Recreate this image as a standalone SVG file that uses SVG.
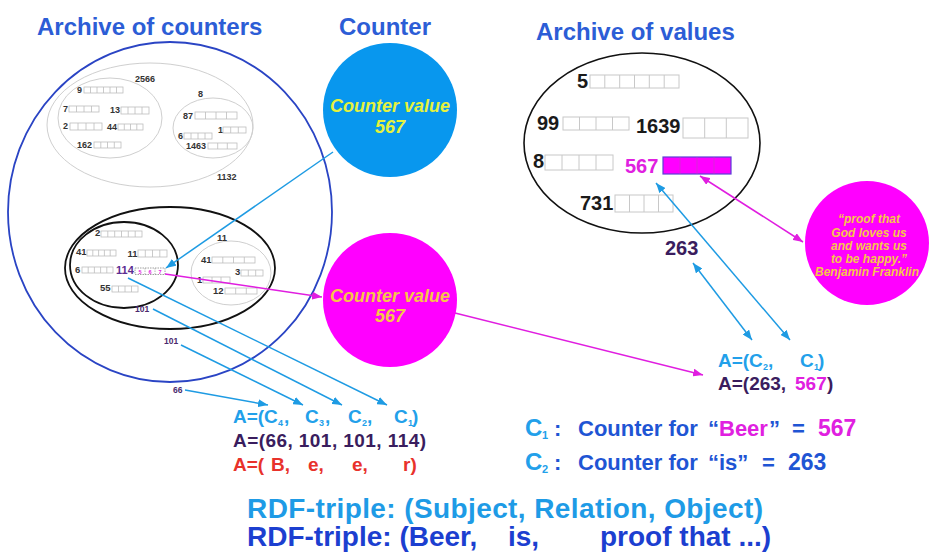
<svg xmlns="http://www.w3.org/2000/svg" width="934" height="554" viewBox="0 0 934 554">
<style>
text{font-family:"Liberation Sans",Arial,sans-serif;font-weight:bold}
.ttl{font-size:24px;fill:#2c5dd6}
.n{font-size:9px;fill:#333}
.n2{font-size:9.5px;fill:#333}
.cell{fill:none;stroke:#bdbdbd;stroke-width:0.8}
.vc{fill:none;stroke:#c8c8c8;stroke-width:1}
.vn{font-size:20px;fill:#1a1a1a}
.gray{fill:none;stroke:#cfcfcf;stroke-width:1}
.blk{fill:none;stroke:#111;stroke-width:1.8}
.bl{stroke:#1e9be3;stroke-width:1.5;fill:none}
.mg{stroke:#e01ee0;stroke-width:1.5;fill:none}
.cv{font-size:18px;font-style:italic;text-anchor:middle}
.lb{fill:#22a0ea}
.dp{fill:#3a1d5e}
.rd{fill:#e8322b}
.mag{fill:#e020e0}
.db{fill:#1f55d4}
.lbl{font-size:8.5px;fill:#4a2a6e}
</style>
<defs>
<marker id="ab" viewBox="0 0 10 8" refX="10" refY="4" markerWidth="10" markerHeight="8" markerUnits="userSpaceOnUse" orient="auto-start-reverse"><path d="M0,0L10,4L0,8z" fill="#1e9be3"/></marker>
<marker id="am" viewBox="0 0 10 8" refX="10" refY="4" markerWidth="10" markerHeight="8" markerUnits="userSpaceOnUse" orient="auto-start-reverse"><path d="M0,0L10,4L0,8z" fill="#e01ee0"/></marker>
</defs>
<rect width="934" height="554" fill="#fff"/>

<g id="titles">
<text class="ttl" x="37" y="35">Archive of counters</text>
<text class="ttl" x="339" y="35">Counter</text>
<text class="ttl" x="536" y="40">Archive of values</text>
</g>

<g id="archive-counters">
<ellipse cx="170" cy="212" rx="162" ry="170" fill="none" stroke="#2a44c4" stroke-width="1.8"/>
<g id="upper-group">
<ellipse class="gray" cx="150" cy="125" rx="103" ry="62"/>
<ellipse class="gray" cx="110" cy="118" rx="52" ry="40"/>
<ellipse class="gray" cx="213" cy="128" rx="40" ry="30"/>
<text class="n" x="135" y="82">2566</text>
<text class="n" x="77" y="93">9</text>
<rect class="cell" x="84" y="87" width="39" height="6"/><path class="cell" d="M90.5,87v6M97,87v6M103.5,87v6M110,87v6M116.5,87v6"/>
<text class="n" x="63" y="112">7</text>
<rect class="cell" x="69" y="106" width="30" height="6"/><path class="cell" d="M76.5,106v6M84,106v6M91.5,106v6"/>
<text class="n" x="110" y="113">13</text>
<rect class="cell" x="121" y="107" width="28" height="7"/><path class="cell" d="M128,107v7M135,107v7M142,107v7"/>
<text class="n" x="63" y="129">2</text>
<rect class="cell" x="70" y="123" width="32" height="7"/><path class="cell" d="M78,123v7M86,123v7M94,123v7"/>
<text class="n" x="107" y="130">44</text>
<rect class="cell" x="118" y="124" width="25" height="6"/><path class="cell" d="M124.3,124v6M130.5,124v6M136.8,124v6"/>
<text class="n" x="77" y="148">162</text>
<rect class="cell" x="94" y="142" width="27" height="6"/><path class="cell" d="M100.8,142v6M107.5,142v6M114.3,142v6"/>
<text class="n" x="198" y="97">8</text>
<text class="n" x="183" y="119">87</text>
<rect class="cell" x="195" y="112" width="42" height="7"/><path class="cell" d="M205.5,112v7M216,112v7M226.5,112v7"/>
<text class="n" x="218" y="133">1</text>
<rect class="cell" x="223" y="127" width="23" height="6"/><path class="cell" d="M230.7,127v6M238.3,127v6"/>
<text class="n" x="178" y="139">6</text>
<rect class="cell" x="184" y="133" width="28" height="6"/><path class="cell" d="M191,133v6M198,133v6M205,133v6"/>
<text class="n" x="186" y="149">1463</text>
<rect class="cell" x="208" y="143" width="29" height="6"/><path class="cell" d="M217.7,143v6M227.3,143v6"/>
<text class="n" x="217" y="180">1132</text>
</g>
<g id="lower-group">
<ellipse class="blk" cx="170" cy="268" rx="105" ry="61"/>
<ellipse class="blk" cx="124" cy="265" rx="54" ry="43"/>
<ellipse class="gray" cx="231" cy="273" rx="40" ry="32"/>
<text class="n2" x="95" y="236">2</text>
<rect class="cell" x="101" y="231" width="41" height="6"/><path class="cell" d="M107.8,231v6M114.7,231v6M121.5,231v6M128.3,231v6M135.2,231v6"/>
<text class="n2" x="76" y="255">41</text>
<rect class="cell" x="87" y="250" width="29" height="6"/><path class="cell" d="M92.8,250v6M98.6,250v6M104.4,250v6M110.2,250v6"/>
<text class="n2" x="127.5" y="257">11</text>
<rect class="cell" x="138" y="250" width="29" height="7"/><path class="cell" d="M145.3,250v7M152.5,250v7M159.8,250v7"/>
<text class="n2" x="75" y="273">6</text>
<rect class="cell" x="82" y="267" width="31" height="6"/><path class="cell" d="M88.2,267v6M94.4,267v6M100.6,267v6M106.8,267v6"/>
<text x="116" y="274" font-size="11" fill="#5c2d91">114</text>
<rect x="135" y="268" width="30" height="6.5" fill="none" stroke="#888" stroke-width="0.8" stroke-dasharray="1.5 1"/><path d="M145,268v6.5M155,268v6.5" stroke="#888" stroke-width="0.6" stroke-dasharray="1.5 1"/>
<text x="138.5" y="273.5" font-size="5.5" class="mag">5</text><text x="148.5" y="273.5" font-size="5.5" class="mag">6</text><text x="158.5" y="273.5" font-size="5.5" class="mag">7</text>
<text class="n2" x="100" y="291">55</text>
<rect class="cell" x="112" y="286" width="26" height="6"/><path class="cell" d="M118.5,286v6M125,286v6M131.5,286v6"/>
<text class="n2" x="217" y="241">11</text>
<text class="n2" x="201" y="263">41</text>
<rect class="cell" x="212" y="257" width="43" height="6"/><path class="cell" d="M222.8,257v6M233.5,257v6M244.3,257v6"/>
<text class="n2" x="235" y="275">3</text>
<rect class="cell" x="241" y="270" width="22" height="6"/><path class="cell" d="M248.3,270v6M255.7,270v6"/>
<text class="n2" x="197" y="283">1</text>
<rect class="cell" x="203" y="277" width="27" height="6"/><path class="cell" d="M212,277v6M221,277v6"/>
<text class="n2" x="213" y="294">12</text>
<rect class="cell" x="225" y="288" width="32" height="6"/><path class="cell" d="M235.7,288v6M246.3,288v6"/>
</g>
<text class="lbl" x="135" y="312">101</text>
<text class="lbl" x="164" y="344">101</text>
<text class="lbl" x="173" y="393">66</text>
</g>

<g id="counter">
<circle cx="390" cy="110" r="67" fill="#0897ee"/>
<text class="cv" x="390" y="112" fill="#e6f23c">Counter value</text>
<text class="cv" x="390" y="133" fill="#e6f23c">567</text>
</g>

<g id="counter-value">
<circle cx="390" cy="300" r="67" fill="#ff00ff"/>
<text class="cv" x="390" y="302" fill="#f6c54a">Counter value</text>
<text class="cv" x="390" y="322" fill="#f6c54a">567</text>
</g>

<g id="archive-values">
<ellipse cx="642" cy="143" rx="118" ry="90" fill="none" stroke="#111" stroke-width="1.6"/>
<text class="vn" x="577" y="88">5</text>
<rect class="vc" x="590" y="75" width="89" height="13"/><path class="vc" d="M604.8,75v13M619.7,75v13M634.5,75v13M649.3,75v13M664.2,75v13"/>
<text class="vn" x="537" y="130">99</text>
<rect class="vc" x="563" y="117" width="66" height="13"/><path class="vc" d="M579.5,117v13M596,117v13M612.5,117v13"/>
<text class="vn" x="636" y="133">1639</text>
<rect class="vc" x="683" y="118" width="65" height="20"/><path class="vc" d="M704.7,118v20M726.3,118v20"/>
<text class="vn" x="533" y="168">8</text>
<rect class="vc" x="545" y="155" width="68" height="15"/><path class="vc" d="M562,155v15M579,155v15M596,155v15"/>
<text class="vn mag" x="625" y="173">567</text>
<rect x="663" y="157" width="68" height="17" fill="#ff00ff" stroke="#5b3fd6" stroke-width="1.2"/><path d="M680,157v17M697,157v17M714,157v17" stroke="#c040c0" stroke-width="0.6"/>
<text class="vn" x="580" y="210">731</text>
<rect class="vc" x="615" y="195" width="58" height="17"/><path class="vc" d="M629.5,195v17M644,195v17M658.5,195v17"/>
</g>

<g id="value-263">
<text x="665" y="255" font-size="20" class="dp">263</text>
</g>

<g id="quote">
<circle cx="867" cy="243" r="62" fill="#ff00ff"/>
<g font-size="12" font-style="italic" fill="#f6c54a" text-anchor="middle">
<text x="869" y="223">“proof that</text>
<text x="869" y="237">God loves us</text>
<text x="869" y="250">and wants us</text>
<text x="869" y="263">to be happy.”</text>
<text x="867" y="276">Benjamin Franklin</text>
</g>
</g>

<g id="tuple-left" font-size="19">
<text class="lb" x="233" y="423">A=(</text>
<text class="lb" x="264" y="423">C</text><text class="lb" x="278" y="426" font-size="9">4</text><text class="lb" x="284" y="423">,</text>
<text class="lb" x="305" y="423">C</text><text class="lb" x="319" y="426" font-size="9">3</text><text class="lb" x="325" y="423">,</text>
<text class="lb" x="348" y="423">C</text><text class="lb" x="362" y="426" font-size="9">2</text><text class="lb" x="367" y="423">,</text>
<text class="lb" x="394" y="423">C</text><text class="lb" x="408" y="426" font-size="9">1</text><text class="lb" x="412" y="423">)</text>
<text class="dp" x="233" y="447" textLength="193">A=(66, 101, 101, 114)</text>
<text class="rd" x="233" y="471">A=(</text>
<text class="rd" x="271" y="471">B,</text>
<text class="rd" x="308" y="471">e,</text>
<text class="rd" x="352" y="471">e,</text>
<text class="rd" x="403" y="471">r)</text>
</g>

<g id="tuple-right" font-size="19">
<text class="lb" x="718" y="367">A=(</text>
<text class="lb" x="749" y="367">C</text><text class="lb" x="763" y="370" font-size="9">2</text><text class="lb" x="768" y="367">,</text>
<text class="lb" x="800" y="367">C</text><text class="lb" x="814" y="370" font-size="9">1</text><text class="lb" x="818" y="367">)</text>
<text class="dp" x="718" y="390">A=(263,</text>
<text class="mag" x="795" y="390">567</text>
<text class="dp" x="827" y="390">)</text>
</g>

<g id="legend" font-size="22">
<text class="lb" x="525" y="436" font-size="24">C</text><text class="lb" x="542" y="439" font-size="11">1</text>
<text class="db" x="554" y="436">:</text>
<text class="db" x="578" y="436">Counter for</text>
<text class="db" x="708" y="436">“</text><text class="mag" x="719" y="436">Beer</text><text class="db" x="769" y="436">”</text>
<text class="db" x="792" y="436">=</text>
<text class="mag" x="818" y="436" font-size="23">567</text>
<text class="lb" x="525" y="470" font-size="24">C</text><text class="lb" x="542" y="473" font-size="11">2</text>
<text class="db" x="554" y="470">:</text>
<text class="db" x="578" y="470">Counter for</text>
<text class="db" x="708" y="470">“is”</text>
<text class="db" x="762" y="470">=</text>
<text class="db" x="788" y="470" font-size="23">263</text>
</g>

<g id="rdf" font-size="28">
<text x="247" y="518" fill="#1e9be6" textLength="516">RDF-triple: (Subject, Relation, Object)</text>
<text x="247" y="546" fill="#1c3fd0">RDF-triple: (Beer,</text>
<text x="508" y="546" fill="#1c3fd0">is,</text>
<text x="600" y="546" fill="#1c3fd0">proof that ...)</text>
</g>

<g id="connectors">
<path class="bl" d="M128,278L387,405" marker-end="url(#ab)"/>
<path class="bl" d="M153,309L342,405" marker-end="url(#ab)"/>
<path class="bl" d="M181,345L303,405" marker-end="url(#ab)"/>
<path class="bl" d="M185,390L268,405" marker-end="url(#ab)"/>
<path class="bl" d="M333,152L166,268" marker-end="url(#ab)"/>
<path class="mg" d="M165,274L322,297" marker-end="url(#am)"/>
<path class="mg" d="M455,313L703,375" marker-end="url(#am)"/>
<path class="bl" d="M656,183L790,340" marker-start="url(#ab)" marker-end="url(#ab)"/>
<path class="bl" d="M693,263L752,340" marker-start="url(#ab)" marker-end="url(#ab)"/>
<path class="mg" d="M700,176L803,242" marker-start="url(#am)" marker-end="url(#am)"/>
</g>
</svg>
